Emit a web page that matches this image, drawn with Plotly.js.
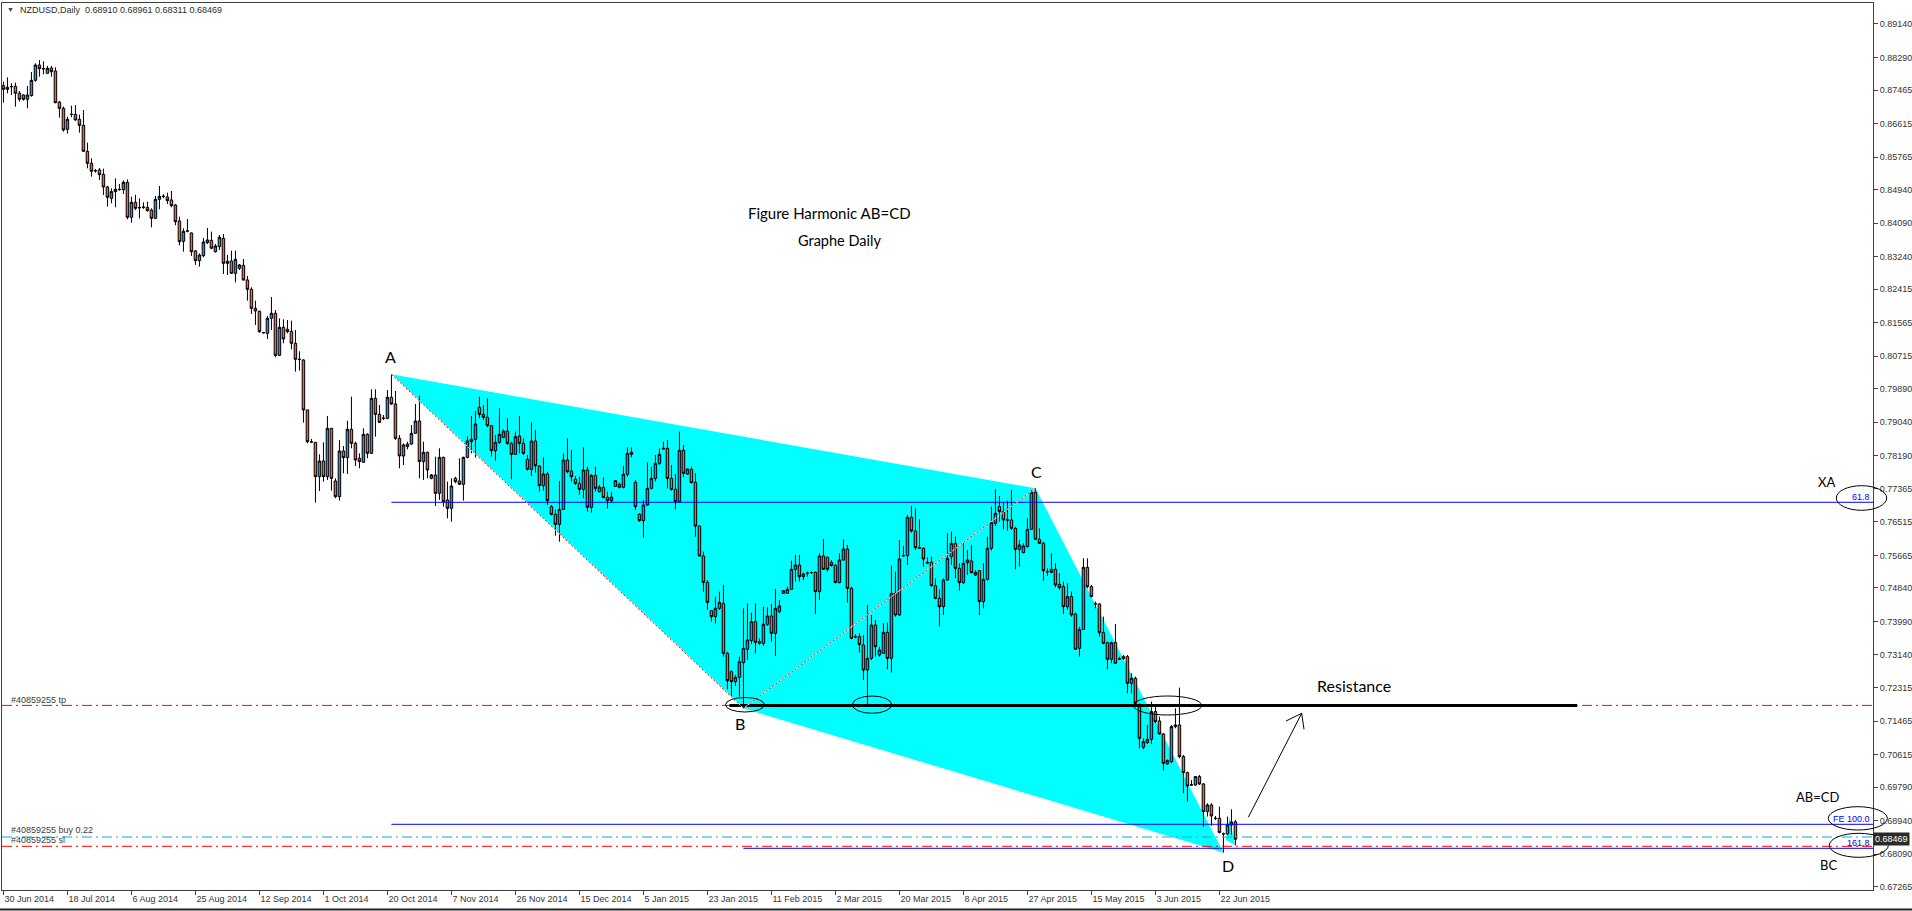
<!DOCTYPE html>
<html><head><meta charset="utf-8">
<script src="https://cdn.plot.ly/plotly-3.0.1.min.js"></script>
<style>html,body{margin:0;padding:0;background:#fff;overflow:hidden}#chart{width:1912px;height:911px}</style>
</head><body><div id="chart"></div>
<script>
// ---- NZDUSD Daily candles (bar 0 = 30 Jun 2014, 6 bars a week) ----
const openP = [
.87576,.87483,.87548,.87559,.87382,.87339,.87230,.87323,.87711,.88100,
.88010,.87889,.88024,.87948,.87162,.87001,.86469,.86852,.86849,.86722,
.86570,.85911,.85607,.85424,.85438,.85328,.85007,.84719,.84888,.84940,
.84939,.85125,.84238,.84618,.84486,.84491,.84491,.84423,.84212,.84694,
.84767,.84753,.84677,.84550,.84145,.83629,.83895,.83840,.83384,.83139,
.83266,.83595,.83654,.83367,.83494,.83705,.83071,.83130,.82818,.82944,
.83020,.82649,.82412,.81930,.81854,.81316,.81296,.81677,.81804,.80738,
.81448,.81398,.81347,.81043,.80640,.80620,.79353,.78545,.78533,.77662,
.78059,.77662,.78888,.77552,.77155,.78313,.78144,.78862,.78507,.78127,
.78026,.78735,.78254,.79648,.79243,.79138,.79141,.79674,.79505,.78634,
.78186,.78423,.78490,.78761,.79074,.78043,.78279,.77620,.77704,.77240,
.78152,.77071,.76859,.77620,.77552,.77468,.78152,.78550,.78609,.79420,
.79243,.79167,.78955,.78321,.78533,.78659,.78820,.78507,.78228,.78693,
.78507,.78101,.77847,.78566,.77932,.77433,.77729,.76901,.76706,.76453,
.76833,.78084,.77805,.77602,.77492,.77340,.77830,.76884,.77695,.77281,
.77391,.77137,.77053,.77416,.77467,.77391,.77721,.78279,.77518,.76706,
.76546,.76943,.77366,.77619,.78000,.78380,.78380,.77619,.77340,.77027,
.78329,.77729,.77847,.77518,.76410,.75650,.74982,.74264,.74112,.74323,
.74450,.73182,.72718,.72464,.72574,.72946,.73284,.73504,.73986,.73436,
.73436,.73918,.74129,.73690,.74239,.74704,.74704,.74806,.75313,.75422,
.75127,.75211,.75228,.75237,.74746,.75651,.75617,.75490,.75414,.74975,
.75549,.75828,.74831,.73605,.73605,.73394,.72760,.73056,.73901,.73140,
.73183,.73715,.73056,.74704,.74155,.75660,.75659,.76631,.76285,.75870,
.75845,.75490,.75490,.74898,.74577,.74366,.75042,.75634,.75972,.75338,
.74975,.75482,.75524,.75169,.75279,.74493,.75059,.75845,.76479,.76902,
.76775,.76568,.76564,.76352,.75820,.75735,.75887,.76327,.77265,.76073,
.75972,.75258,.75313,.75313,.74932,.74873,.74366,.74620,.74180,.73310,
.73789,.75363,.74873,.74440,.74434,.73707,.73453,.73031,.73453,.73042,
.73048,.73098,.72422,.72549,.71830,.70799,.70918,.71002,.71704,.71467,
.71138,.70377,.70436,.71323,.71366,.70563,.70157,.69848,.69844,.70056,
.69870,.69168,.69337,.69002,.68999,.68606,.68602,.68830,.68910];
const highP = [
.87677,.87787,.87635,.87652,.87441,.87356,.87568,.87923,.88142,.88227,
.88193,.88075,.88075,.88041,.87187,.87044,.86790,.87069,.87086,.86841,
.86959,.86131,.85734,.85463,.85488,.85471,.85032,.84973,.85226,.85083,
.85176,.85201,.84762,.84812,.84719,.84618,.84635,.84466,.84778,.85032,
.84821,.84863,.84905,.84576,.84254,.83959,.84195,.83857,.83409,.83325,
.83714,.83967,.83874,.83561,.83790,.83815,.83282,.83392,.83392,.83054,
.83181,.82750,.82463,.82125,.81871,.81330,.81739,.82218,.81888,.81677,
.81651,.81634,.81617,.81381,.80840,.80637,.79360,.78617,.78540,.78228,
.78533,.79200,.78895,.77620,.78592,.78440,.79082,.79691,.78550,.78254,
.78888,.78761,.79877,.79877,.79479,.79226,.79860,.80257,.79834,.78719,
.78507,.78550,.78972,.79505,.79716,.78550,.78296,.77730,.78169,.78381,
.78169,.77535,.77620,.77662,.78127,.78169,.78676,.79200,.79327,.79691,
.79479,.79648,.78972,.78719,.79395,.78862,.79141,.78550,.78803,.79200,
.78633,.78211,.79039,.78845,.77957,.78152,.77788,.76943,.76833,.77551,
.78253,.78633,.78338,.77678,.77661,.78405,.77915,.77729,.77915,.77450,
.77645,.77281,.77281,.77577,.77509,.77932,.78405,.78405,.77577,.76732,
.77070,.78025,.77915,.78211,.78380,.78549,.78591,.77957,.77729,.78802,
.78464,.77873,.77915,.77746,.76415,.75760,.75041,.74281,.74619,.74745,
.74915,.73224,.72760,.72633,.73098,.74324,.74451,.74214,.74451,.73563,
.74366,.74349,.74434,.74814,.74535,.74789,.74873,.75532,.75676,.75676,
.75228,.75254,.75254,.75254,.75718,.76082,.75634,.75549,.75448,.75718,
.76073,.75930,.74873,.73665,.73690,.73648,.74408,.74155,.74028,.73352,
.73943,.73960,.75406,.75254,.76056,.75904,.76690,.76919,.76859,.76580,
.75870,.75617,.75634,.75084,.74806,.75084,.76225,.76268,.76141,.75465,
.75989,.75803,.75930,.75296,.75296,.75465,.76141,.76902,.77341,.77172,
.77003,.77054,.77324,.76395,.76057,.75972,.76606,.77324,.77367,.76352,
.76014,.75338,.75719,.75465,.75211,.75000,.74958,.74747,.74214,.73859,
.75592,.75592,.74916,.74493,.74451,.74113,.73479,.73479,.73927,.73098,
.73141,.73141,.72676,.72591,.71915,.71028,.71366,.71957,.71830,.71577,
.71155,.70495,.71366,.71788,.72312,.70605,.70182,.69971,.70073,.70098,
.69887,.69380,.69380,.69058,.69295,.68636,.69041,.69227,.68961];
const lowP = [
.87145,.87382,.87339,.87044,.87170,.87196,.87001,.87297,.87677,.87804,
.87863,.87880,.87804,.87128,.86765,.86410,.86359,.86773,.86689,.86384,
.85905,.85480,.85269,.85370,.85184,.84804,.84508,.84593,.84491,.84914,
.84829,.84187,.84102,.84423,.84212,.84449,.84381,.83984,.84195,.84440,
.84719,.84576,.84491,.84035,.83527,.83367,.83857,.83257,.83029,.82987,
.83223,.83561,.83426,.83342,.83409,.82801,.82775,.82812,.82589,.82902,
.82632,.82125,.81787,.81508,.81313,.81296,.81153,.81381,.80688,.80732,
.81043,.81296,.80891,.80324,.80350,.79031,.78507,.78524,.77003,.77299,
.77535,.77577,.77307,.77113,.77054,.77747,.77730,.78381,.77933,.77874,
.78017,.78127,.78237,.78676,.79031,.79099,.79116,.79479,.78592,.77874,
.77958,.78355,.78465,.78744,.77620,.77577,.77620,.77595,.76918,.77071,
.76901,.76606,.76521,.77493,.77451,.77054,.78127,.78254,.78144,.79141,
.79099,.78913,.78169,.78068,.78490,.78634,.78465,.77595,.78212,.78253,
.78211,.77814,.77678,.77763,.77281,.77306,.76943,.76681,.76165,.76013,
.76816,.77746,.77535,.77450,.77197,.77112,.76774,.76749,.77281,.77256,
.77112,.76858,.77002,.77408,.77366,.77366,.77661,.78152,.76816,.76520,
.76115,.76918,.77340,.77535,.77957,.78355,.77366,.77306,.76833,.77002,
.77645,.77704,.77492,.76140,.75633,.74745,.74281,.73985,.73942,.74281,
.73097,.72269,.72101,.72355,.72084,.71788,.73014,.73419,.73183,.73394,
.73369,.73876,.73478,.73115,.74197,.74687,.74687,.74789,.75000,.75000,
.75042,.75127,.75194,.74180,.74535,.75296,.75254,.75380,.74958,.74958,
.75532,.74467,.73538,.73563,.73200,.72507,.71898,.73014,.73098,.73098,
.73166,.72777,.72693,.74113,.74130,.75634,.75422,.76243,.75803,.75840,
.75380,.75448,.74873,.74552,.73859,.74155,.75025,.75423,.75085,.74772,
.74941,.75169,.75211,.75144,.74155,.74324,.75025,.75786,.76411,.76521,
.76327,.76293,.76310,.75313,.75380,.75718,.75870,.76310,.76057,.75955,
.75025,.75144,.75211,.74856,.74789,.74180,.74282,.74113,.73267,.73098,
.73774,.74831,.74603,.74324,.73605,.73411,.72777,.72929,.72912,.73014,
.73014,.72169,.72169,.71873,.70774,.70749,.70884,.70884,.71408,.71112,
.70208,.70352,.70394,.71281,.70521,.69633,.69422,.69819,.69819,.69844,
.68788,.69041,.68805,.68957,.68619,.68129,.68577,.68577,.68311];
const closeP = [
.87483,.87534,.87555,.87382,.87230,.87230,.87339,.87711,.88100,.88007,
.88003,.88016,.87931,.87145,.87001,.86452,.86722,.86846,.86706,.86570,
.85911,.85607,.85404,.85418,.85319,.85007,.84745,.84888,.84948,.84945,
.85125,.84238,.84618,.84466,.84480,.84497,.84407,.84212,.84694,.84770,
.84773,.84660,.84533,.84128,.83620,.83883,.83888,.83367,.83139,.83282,
.83612,.83663,.83452,.83511,.83731,.83071,.83122,.82818,.83173,.83029,
.82649,.82412,.81930,.81863,.81338,.81310,.81677,.81804,.80738,.81448,
.81153,.81338,.81043,.80637,.80634,.79353,.78550,.78539,.77662,.78059,
.77662,.78888,.77620,.77155,.78313,.78144,.78862,.78507,.78085,.78043,
.78735,.78254,.79648,.79243,.79040,.79145,.79674,.79505,.78634,.78186,
.78465,.78490,.78761,.79074,.78043,.78279,.77831,.77704,.77240,.78152,
.77028,.76859,.77425,.77535,.77468,.78152,.78567,.78609,.78998,.79243,
.79167,.78955,.78321,.78533,.78735,.78820,.78507,.78228,.78676,.78507,
.78253,.77847,.78566,.77940,.77433,.77729,.77053,.76706,.76453,.76833,
.78084,.77788,.77661,.77492,.77340,.77830,.76884,.77695,.77366,.77399,
.77129,.77053,.77146,.77560,.77391,.77721,.78253,.78228,.76901,.76546,
.76943,.77366,.77619,.78000,.78228,.78366,.77619,.77340,.77027,.78329,
.77746,.77856,.77509,.76410,.75650,.74982,.74475,.74112,.74323,.74475,
.73182,.72489,.72464,.72574,.72971,.73309,.73521,.73986,.73462,.73478,
.73918,.74129,.73690,.74324,.74383,.74772,.74806,.75313,.75422,.75127,
.75194,.75215,.75232,.74746,.75651,.75313,.75313,.75406,.74975,.75549,
.75828,.74831,.73563,.73600,.73403,.72760,.73056,.73901,.73352,.73267,
.73715,.73056,.74704,.74155,.75575,.75655,.76631,.76285,.75862,.75845,
.75575,.75474,.74898,.74577,.74366,.75042,.75592,.75972,.75338,.74975,
.75465,.75549,.75228,.75237,.74493,.75059,.75845,.76496,.76733,.76775,
.76564,.76560,.76352,.75820,.75930,.75904,.76327,.77265,.76073,.75972,
.75279,.75250,.75237,.74916,.74848,.74366,.74620,.74155,.73284,.73789,
.75363,.74873,.74620,.74434,.73707,.73436,.73031,.73453,.72929,.73036,
.73098,.72422,.72549,.71915,.71028,.70943,.71002,.71704,.71450,.71138,
.70394,.70461,.71323,.71366,.70563,.70157,.69819,.69840,.70056,.69870,
.69168,.69337,.69058,.68995,.68636,.68600,.68830,.68905,.68469];

// date axis labels, one every 16 bars
const dateLabels = ['30 Jun 2014','18 Jul 2014','6 Aug 2014','25 Aug 2014','12 Sep 2014','1 Oct 2014',
 '20 Oct 2014','7 Nov 2014','26 Nov 2014','15 Dec 2014','5 Jan 2015','23 Jan 2015','11 Feb 2015',
 '2 Mar 2015','20 Mar 2015','8 Apr 2015','27 Apr 2015','15 May 2015','3 Jun 2015','22 Jun 2015'];
const labelStep = 16;
// price scale labels
const priceTicks = [0.89140,0.88290,0.87465,0.86615,0.85765,0.84940,0.84090,0.83240,0.82415,0.81565,
 0.80715,0.79890,0.79040,0.78190,0.77365,0.76515,0.75665,0.74840,0.73990,0.73140,0.72315,0.71465,
 0.70615,0.69790,0.68940,0.68090,0.67265];

// harmonic pattern points (bar numbers): A high, B low, C high, D low
const pointA = 97, pointB = 185, pointC = 258, pointD = 305;
// small extra triangle drawn after D (bar, price)
const tailBars = [306.5, 307.9, 305.6], tailPrices = [0.69032, 0.68322, 0.68449];
// levels
const levelXA618 = 0.77012, levelFE100 = 0.68847, levelBC1618 = 0.68238;
const levelTP = 0.71862, levelBuy = 0.68525, levelSL = 0.68289, levelRes = 0.71859;
const resistanceFrom = 181.5, resistanceTo = 393.4;
const lastPrice = 0.68469;

const bars = openP.map((_, i) => i);
const pA = highP[pointA], pB = lowP[pointB], pC = highP[pointC], pD = lowP[pointD];

// pixel geometry of the plot area
const PX0 = 2, PX1 = 1873, PY0 = 3, PY1 = 890;
const xp = px => (px - PX0) / (PX1 - PX0);
const yp = py => (PY1 - py) / (PY1 - PY0);
const XR = [-0.36, 467.39];
const YR = [0.67181, 0.89672];

const FONT = 'Liberation Sans, Arial, sans-serif';
const UP = '#2B8BEA', DOWN = '#EC6446';

const data = [
  { type: 'candlestick', x: bars, open: openP, high: highP, low: lowP, close: closeP,
    increasing: { line: { color: '#000000', width: 1 }, fillcolor: UP },
    decreasing: { line: { color: '#000000', width: 1 }, fillcolor: DOWN },
    whiskerwidth: 0, hoverinfo: 'skip' }
];

const shapes = [];
// filled ABCD pattern, behind the candles
shapes.push({ type: 'path', xref: 'x', yref: 'y', layer: 'below',
  path: `M ${pointA},${pA} L ${pointC},${pC} L ${pointD},${pD} L ${pointB},${pB} Z`,
  fillcolor: '#00FFFF', line: { width: 0 } });
shapes.push({ type: 'path', xref: 'x', yref: 'y', layer: 'below',
  path: `M ${tailBars[0]},${tailPrices[0]} L ${tailBars[1]},${tailPrices[1]} L ${tailBars[2]},${tailPrices[2]} Z`,
  fillcolor: '#00FFFF', line: { width: 0 } });

function hline(y, x0, x1, color, dash, width, xref) {
  shapes.push({ type: 'line', xref: xref || 'x', yref: 'y', x0: x0, x1: x1, y0: y, y1: y,
    line: { color: color, width: width || 1, dash: dash || 'solid' }, layer: 'above' });
}
const DD = '10px,4px,2px,4px';
hline(levelTP, 0, 1, '#FF0000', DD, 1, 'paper');
hline(levelSL, 0, 1, '#FF0000', DD, 1, 'paper');
hline(levelBuy, 0, 1, '#1CA3D4', DD, 1, 'paper');
hline(levelXA618, pointA, XR[1], '#0000FF');
hline(levelFE100, pointA, XR[1], '#0000FF');
hline(levelBC1618, pointB, XR[1], '#0000FF');
hline(levelRes, resistanceFrom, resistanceTo, '#000000', 'solid', 3);
// dotted pattern legs
[[pointA, pA, pointB, pB], [pointB, pB, pointC, pC]].forEach(s => {
  shapes.push({ type: 'line', xref: 'x', yref: 'y', x0: s[0], y0: s[1], x1: s[2], y1: s[3],
    line: { color: '#FFFFFF', width: 1 }, layer: 'above' });
  shapes.push({ type: 'line', xref: 'x', yref: 'y', x0: s[0], y0: s[1], x1: s[2], y1: s[3],
    line: { color: '#FF0000', width: 1, dash: '2px,2px' }, layer: 'above' });
});
// ellipses (pixel boxes)
[[725.5, 764.5, 697.5, 712], [852.3, 891.7, 696, 713.3], [1133.3, 1201.7, 696, 715],
 [1836.3, 1886.7, 485.7, 510.3], [1828.3, 1887.3, 806.7, 830], [1829.3, 1888.3, 833.3, 857.3]
].forEach(e => shapes.push({ type: 'circle', xref: 'paper', yref: 'paper', x0: xp(e[0]), x1: xp(e[1]),
  y0: yp(e[3]), y1: yp(e[2]), line: { color: '#000000', width: 1 }, layer: 'above' }));
// arrow
[[1248.3, 817.3, 1301.7, 713.3], [1301.7, 713.3, 1286, 721], [1301.7, 713.3, 1304, 729.3]].forEach(l =>
  shapes.push({ type: 'line', xref: 'paper', yref: 'paper', x0: xp(l[0]), y0: yp(l[1]), x1: xp(l[2]), y1: yp(l[3]),
    line: { color: '#000000', width: 1 }, layer: 'above' }));
// window bottom edge
shapes.push({ type: 'line', xref: 'paper', yref: 'paper', x0: xp(0), x1: xp(1912), y0: yp(909.5), y1: yp(909.5),
  line: { color: '#222222', width: 2 } });

const annotations = [];
function txt(text, px, py, size, color, xanchor, family, extra) {
  annotations.push(Object.assign({ text: text, xref: 'paper', yref: 'paper', x: xp(px), y: yp(py),
    xanchor: xanchor || 'center', yanchor: 'middle', showarrow: false,
    font: { family: family || FONT, size: size, color: color || '#000000' } }, extra || {}));
}
txt('\u25BC', 10, 10, 7, '#444444');
txt('NZDUSD,Daily  0.68910 0.68961 0.68311 0.68469', 18, 10, 9, '#2B2B2B', 'left');
txt('Figure Harmonic AB=CD', 829.5, 213.5, 15, '#000000', 'center', 'Lato, sans-serif');
txt('Graphe Daily', 839, 240, 14.5, '#000000', 'center', 'Lato, sans-serif');
txt('A', 390, 357, 16, '#000000', 'center', 'Lato, sans-serif');
txt('B', 740, 723, 16, '#000000', 'center', 'Lato, sans-serif');
txt('C', 1036, 472, 16, '#000000', 'center', 'Lato, sans-serif');
txt('D', 1228, 865, 16, '#000000', 'center', 'Lato, sans-serif');
txt('Resistance', 1354, 685, 16, '#000000', 'center', 'Lato, sans-serif');
txt('XA', 1826, 482, 13, '#000000', 'center', 'Lato, sans-serif');
txt('AB=CD', 1817, 797, 13, '#000000', 'center', 'Lato, sans-serif');
txt('BC', 1828, 865, 13, '#000000', 'center', 'Lato, sans-serif');
txt('61.8', 1872, 497, 9, '#0000FF', 'right');
txt('FE 100.0', 1872, 818.5, 9, '#0000FF', 'right');
txt('161.8', 1872, 842.5, 9, '#0000FF', 'right');
txt('#40859255 tp', 9, 699.5, 9, '#404040', 'left');
txt('#40859255 buy 0.22', 9, 830, 9, '#404040', 'left');
txt('#40859255 sl', 9, 840, 9, '#404040', 'left');
annotations.push({ text: lastPrice.toFixed(5), xref: 'paper', yref: 'y', x: 1, y: lastPrice, xanchor: 'left',
  yanchor: 'middle', showarrow: false, bgcolor: '#2A2A2A', borderpad: 1, xshift: 0,
  font: { family: FONT, size: 9, color: '#FFFFFF' } });

const layout = {
  width: 1912, height: 911, autosize: false,
  margin: { l: PX0, r: 1912 - PX1, t: PY0, b: 911 - PY1, pad: 0 },
  paper_bgcolor: '#FFFFFF', plot_bgcolor: '#FFFFFF', showlegend: false, boxgap: 0.38, boxgroupgap: 0,
  xaxis: { type: 'linear', range: XR, autorange: false, fixedrange: true, automargin: false,
    rangeslider: { visible: false }, showgrid: false, zeroline: false,
    showline: true, linecolor: '#404040', linewidth: 1, mirror: true,
    tickvals: dateLabels.map((_, i) => i * labelStep), ticktext: dateLabels,
    ticks: 'outside', ticklen: 4, tickcolor: '#404040', ticklabelposition: 'outside right',
    tickfont: { family: FONT, size: 9, color: '#333333' } },
  yaxis: { range: YR, autorange: false, fixedrange: true, automargin: false, side: 'right',
    showgrid: false, zeroline: false, showline: true, linecolor: '#404040', linewidth: 1, mirror: true,
    tickvals: priceTicks, ticktext: priceTicks.map(v => v.toFixed(5)),
    ticks: 'outside', ticklen: 4, tickcolor: '#404040',
    tickfont: { family: FONT, size: 9, color: '#333333' } },
  shapes: shapes, annotations: annotations
};
Plotly.newPlot('chart', data, layout, { staticPlot: true, displayModeBar: false });
</script>
</body></html>
